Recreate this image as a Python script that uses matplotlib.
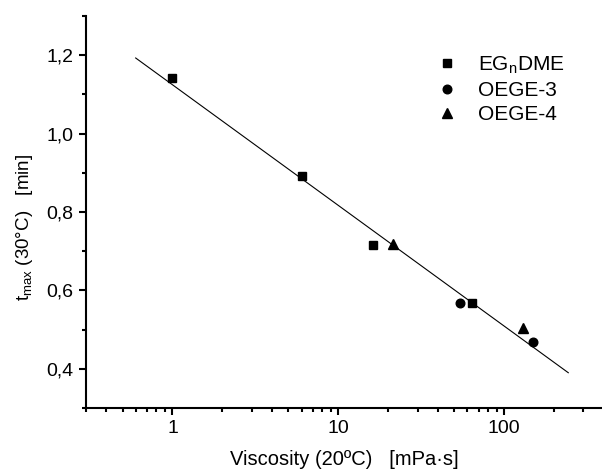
import matplotlib
matplotlib.use("Agg")
import matplotlib.pyplot as plt
from matplotlib.ticker import FuncFormatter, LogLocator, MultipleLocator, NullFormatter

plt.rcParams["font.family"] = ["Liberation Sans", "DejaVu Sans"]
plt.rcParams["mathtext.fontset"] = "custom"
plt.rcParams["mathtext.rm"] = "Liberation Sans"
plt.rcParams["mathtext.it"] = "Liberation Sans"

# data
egdme_x = [1.0, 6.0, 16.1, 63.9]
egdme_y = [1.142, 0.891, 0.716, 0.567]
oege3_x = [54.1, 148.0]
oege3_y = [0.567, 0.468]
oege4_x = [21.3, 130.0]
oege4_y = [0.719, 0.503]
fit_x = [0.60, 243.0]
fit_y = [1.193, 0.390]

fig = plt.figure(figsize=(6.02, 4.72), dpi=100)
ax = fig.add_axes([0.1424, 0.1356, 1.0 - 0.1424, 0.966 - 0.1356])

ax.plot(fit_x, fit_y, color="black", lw=0.8, zorder=1)
ax.plot(egdme_x, egdme_y, ls="none", marker="s", ms=5.8, color="black", label="EG$_{\\mathrm{n}}$DME")
ax.plot(oege3_x, oege3_y, ls="none", marker="o", ms=6.2, color="black", label="OEGE-3")
ax.plot(oege4_x, oege4_y, ls="none", marker="^", ms=7.0, color="black", label="OEGE-4")

ax.set_xscale("log")
ax.set_xlim(0.3, 388)
ax.set_ylim(0.3, 1.3)

ax.yaxis.set_major_locator(MultipleLocator(0.2))
ax.yaxis.set_minor_locator(MultipleLocator(0.1))
ax.yaxis.set_major_formatter(FuncFormatter(lambda v, p: f"{v:.1f}".replace(".", ",")))
ax.xaxis.set_major_locator(LogLocator(base=10, numticks=10))
ax.xaxis.set_minor_locator(LogLocator(base=10, subs=range(2, 10), numticks=10))
ax.xaxis.set_minor_formatter(NullFormatter())
ax.xaxis.set_major_formatter(FuncFormatter(lambda v, p: f"{v:g}"))

for side in ("top", "right"):
    ax.spines[side].set_visible(False)
for side in ("left", "bottom"):
    ax.spines[side].set_linewidth(1.5)

ax.tick_params(which="major", direction="out", length=5, width=1.5, labelsize=14, pad=4)
ax.tick_params(which="minor", direction="out", length=3, width=1.5)

ax.set_xlabel("Viscosity (20ºC)   [mPa·s]", fontsize=14.5)
ax.set_ylabel("t$_{\\mathrm{max}}$ (30°C)   [min]", fontsize=13.5)
ax.yaxis.set_label_coords(-0.098, 0.46)
ax.xaxis.set_label_coords(0.5, -0.108)

ax.legend(loc="upper right", bbox_to_anchor=(0.944, 0.923), frameon=False, fontsize=15,
          handletextpad=1.0, labelspacing=0.25, handlelength=1.0, borderaxespad=0)

fig.savefig("out.png", dpi=100)
